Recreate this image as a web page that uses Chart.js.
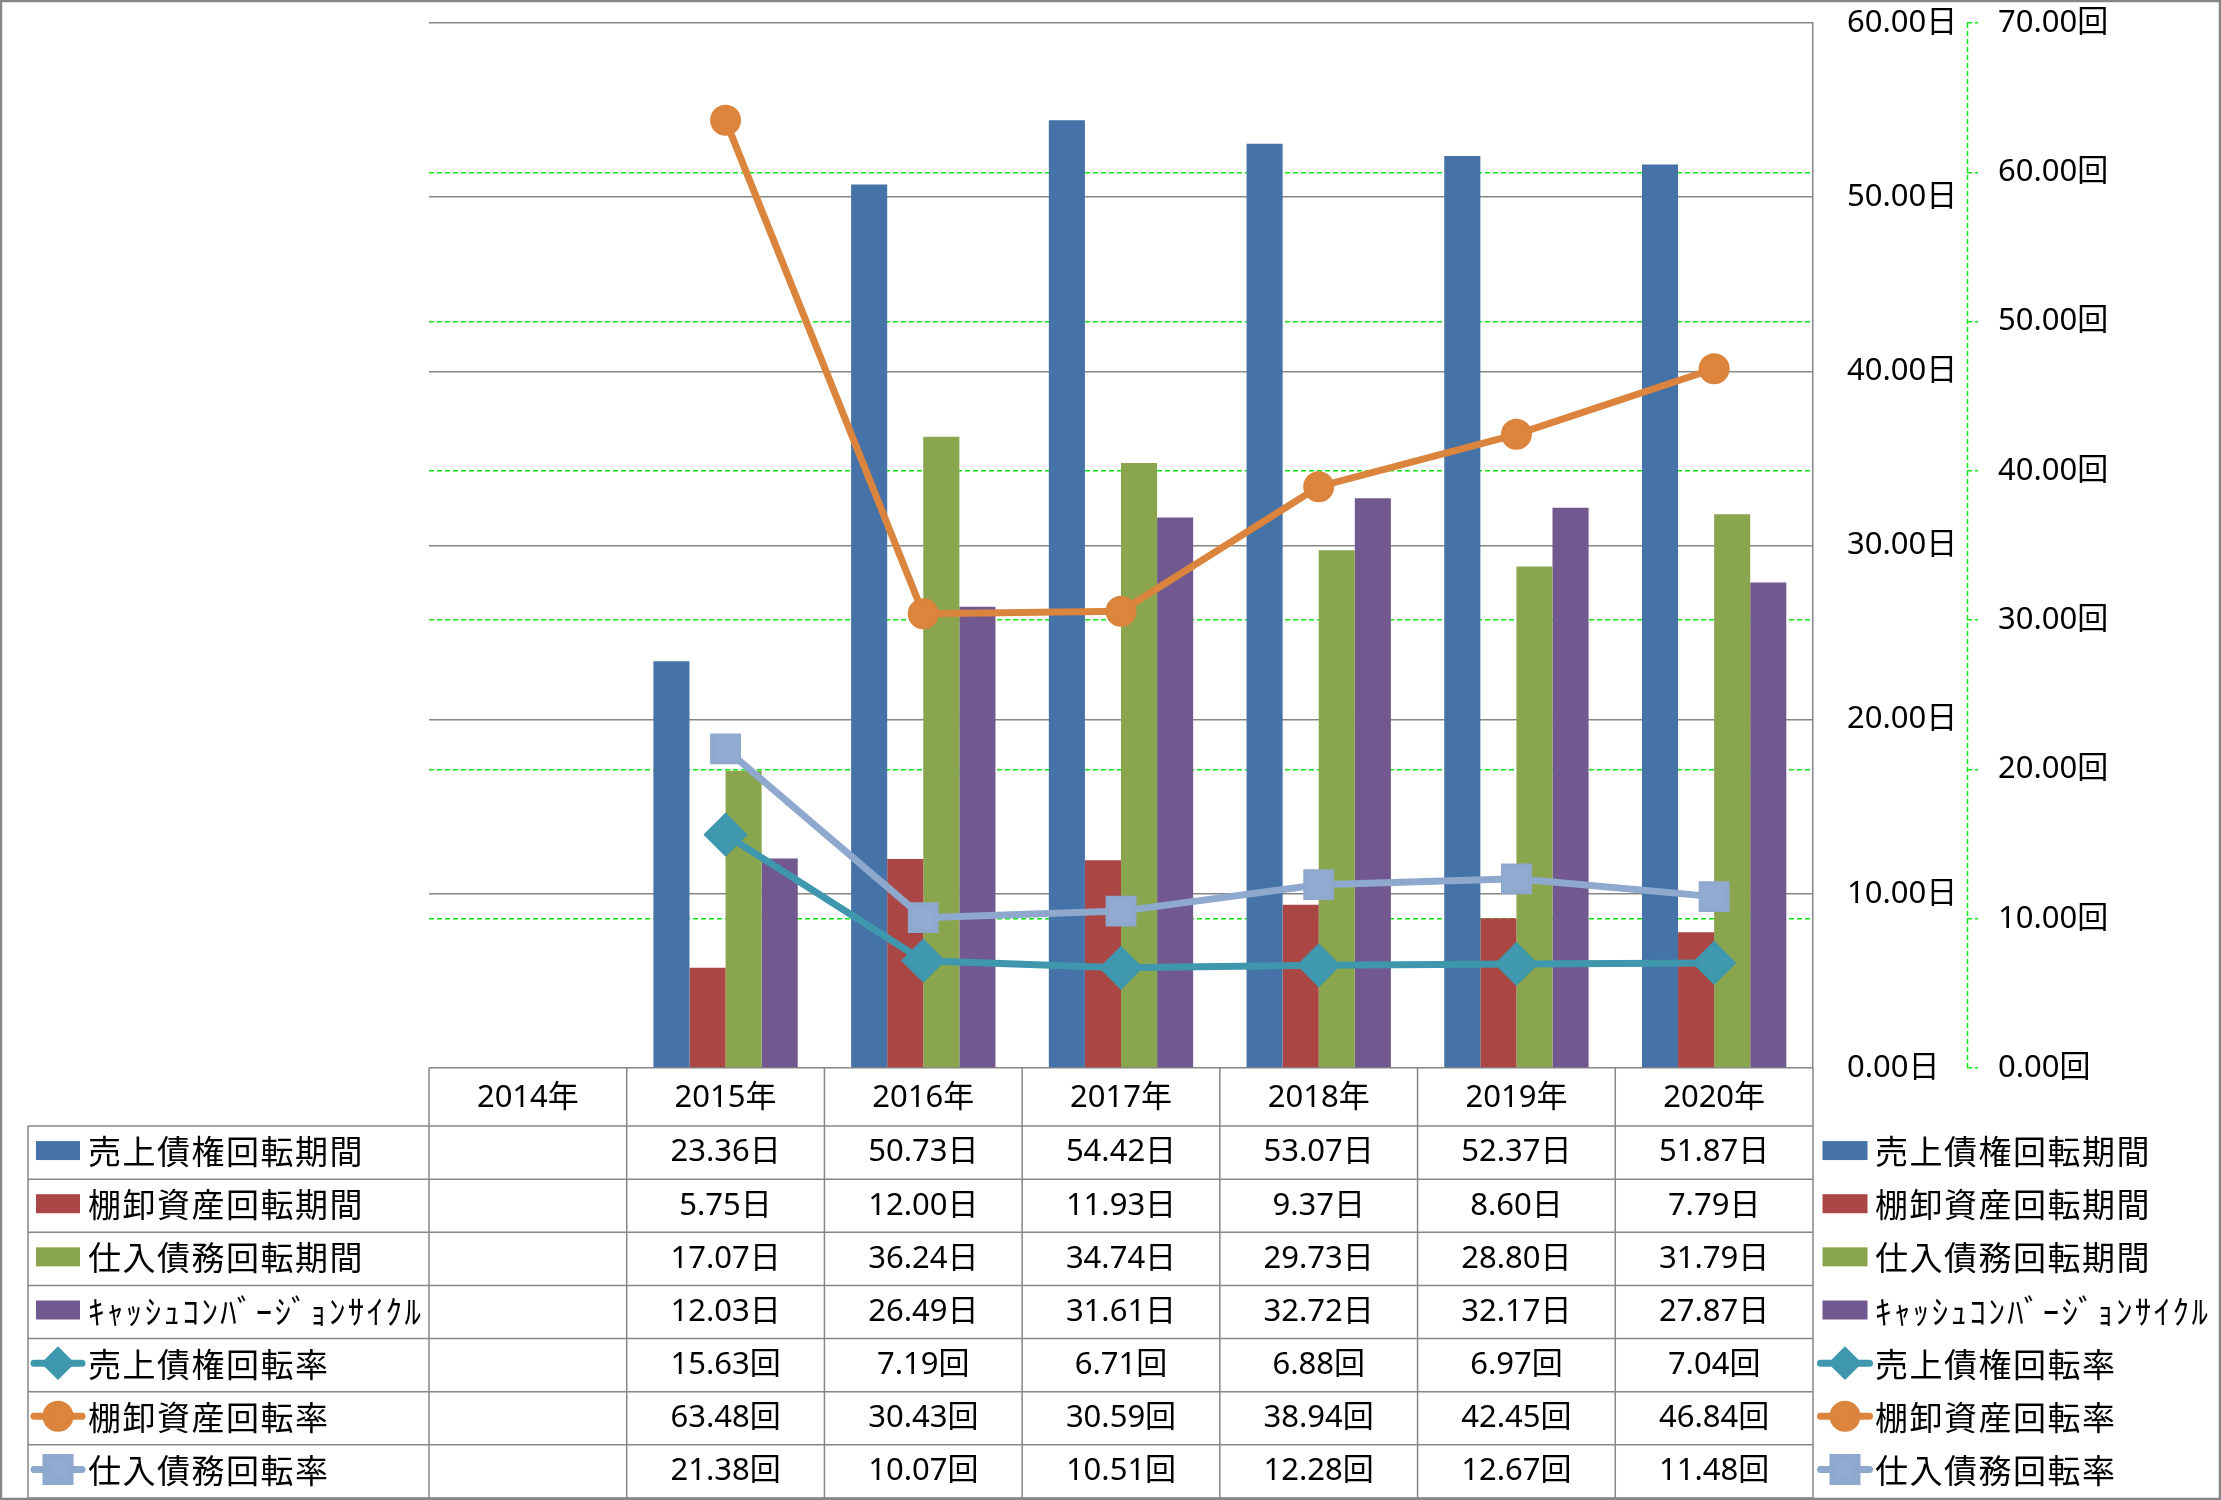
<!DOCTYPE html>
<html>
<head>
<meta charset="utf-8">
<script src="https://cdn.jsdelivr.net/npm/chart.js"></script>
<style>
  html, body { margin: 0; padding: 0; background: #ffffff; }
  #wrap { width: 2221px; height: 1500px; position: relative; }
</style>
</head>
<body>
<div id="wrap"><canvas id="c" width="2221" height="1500"></canvas></div>
<script>
// ---- data ----
const categories = ['2014年', '2015年', '2016年', '2017年', '2018年', '2019年', '2020年'];
const arDays   = [null, 23.36, 50.73, 54.42, 53.07, 52.37, 51.87];
const invDays  = [null, 5.75, 12.00, 11.93, 9.37, 8.60, 7.79];
const apDays   = [null, 17.07, 36.24, 34.74, 29.73, 28.80, 31.79];
const cccDays  = [null, 12.03, 26.49, 31.61, 32.72, 32.17, 27.87];
const arTurn   = [null, 15.63, 7.19, 6.71, 6.88, 6.97, 7.04];
const invTurn  = [null, 63.48, 30.43, 30.59, 38.94, 42.45, 46.84];
const apTurn   = [null, 21.38, 10.07, 10.51, 12.28, 12.67, 11.48];
const seriesNames = ['売上債権回転期間', '棚卸資産回転期間', '仕入債務回転期間', 'ｷｬｯｼｭｺﾝﾊﾞｰｼﾞｮﾝｻｲｸﾙ', '売上債権回転率', '棚卸資産回転率', '仕入債務回転率'];
const dayUnit = '日';
const turnUnit = '回';
const dayAxis = { min: 0, max: 60, step: 10 };
const turnAxis = { min: 0, max: 70, step: 10 };

// ---- styles ----
const NUM_FONT = '31px "Noto Sans", "Noto Sans CJK JP", sans-serif';
const LABEL_FONT = '33px "Noto Sans CJK JP", sans-serif';
const GRID_GRAY = '#868686';
const GREEN = '#12E812';

const barColors = ['#4572A7', '#AA4643', '#89A54E', '#71588F'];
const lineColors = ['#3F97AE', '#DB843D', '#8EA8CE'];

const datasets = [
  { type: 'bar', label: seriesNames[0], data: arDays, backgroundColor: barColors[0], yAxisID: 'y', order: 2 },
  { type: 'bar', label: seriesNames[1], data: invDays, backgroundColor: barColors[1], yAxisID: 'y', order: 2 },
  { type: 'bar', label: seriesNames[2], data: apDays, backgroundColor: barColors[2], yAxisID: 'y', order: 2 },
  { type: 'bar', label: seriesNames[3], data: cccDays, backgroundColor: barColors[3], yAxisID: 'y', order: 2 },
  { type: 'line', label: seriesNames[4], data: arTurn, borderColor: lineColors[0], backgroundColor: lineColors[0],
    pointStyle: 'rectRot', pointRadius: 20, pointHoverRadius: 20, pointBorderWidth: 3, pointBackgroundColor: '#4199B0', pointBorderColor: lineColors[0],
    borderWidth: 7, yAxisID: 'y1', order: 1 },
  { type: 'line', label: seriesNames[5], data: invTurn, borderColor: lineColors[1], backgroundColor: lineColors[1],
    pointStyle: 'circle', pointRadius: 14, pointHoverRadius: 14, pointBorderWidth: 3, pointBackgroundColor: '#DD853C', pointBorderColor: lineColors[1],
    borderWidth: 7, yAxisID: 'y1', order: 1 },
  { type: 'line', label: seriesNames[6], data: apTurn, borderColor: lineColors[2], backgroundColor: lineColors[2],
    pointStyle: 'rect', pointRadius: 19, pointHoverRadius: 19, pointBorderWidth: 4, pointBackgroundColor: '#93AAD2', pointBorderColor: lineColors[2],
    borderWidth: 7, yAxisID: 'y1', order: 1 }
];
const units = [dayUnit, dayUnit, dayUnit, dayUnit, turnUnit, turnUnit, turnUnit];

function drawKey(ctx, ds, cx, cy, w) {
  ctx.save();
  if (ds.type === 'bar') {
    ctx.fillStyle = ds.backgroundColor;
    ctx.fillRect(cx - w / 2, cy - 9.5, w, 19);
  } else {
    ctx.strokeStyle = ds.borderColor;
    ctx.lineWidth = 7;
    ctx.lineCap = 'round';
    ctx.beginPath();
    ctx.moveTo(cx - w / 2 - 2, cy);
    ctx.lineTo(cx + w / 2 + 2, cy);
    ctx.stroke();
    ctx.fillStyle = ds.pointBackgroundColor;
    ctx.strokeStyle = ds.pointBorderColor;
    const r = ds.pointStyle === 'circle' ? 12 : (ds.pointStyle === 'rect' ? 17 : 12);
    Chart.helpers.drawPoint(ctx, { pointStyle: ds.pointStyle, rotation: 0, radius: r, borderWidth: ds.pointBorderWidth }, cx, cy);
  }
  ctx.restore();
}

const tablePlugin = {
  id: 'dataTable',
  afterDraw(chart) {
    const ctx = chart.ctx;
    const ca = chart.chartArea;
    const xs = chart.scales.x;
    const y1 = chart.scales.y1;
    const n = categories.length;
    const cw = (ca.right - ca.left) / n;
    const headTop = ca.bottom;
    const headBot = headTop + 58;
    const tableBot = 1498;
    const rows = datasets.length;
    const rowH = (tableBot - headBot) / rows;
    const labelLeft = 28;

    ctx.save();
    // green dashed secondary axis line
    ctx.strokeStyle = GREEN;
    ctx.lineWidth = 1.5;
    ctx.setLineDash([5, 3]);
    ctx.beginPath();
    ctx.moveTo(Math.round(y1.left) + 0.5, ca.top);
    ctx.lineTo(Math.round(y1.left) + 0.5, ca.bottom);
    ctx.stroke();
    ctx.setLineDash([]);

    // table lines
    ctx.strokeStyle = GRID_GRAY;
    ctx.lineWidth = 1.5;
    ctx.beginPath();
    for (let i = 0; i <= n; i++) {
      const x = ca.left + i * cw;
      ctx.moveTo(x, headTop);
      ctx.lineTo(x, tableBot);
    }
    for (let r = 0; r <= rows; r++) {
      const y = headBot + r * rowH;
      ctx.moveTo(labelLeft, y);
      ctx.lineTo(ca.right, y);
    }
    ctx.moveTo(labelLeft, headBot);
    ctx.lineTo(labelLeft, tableBot);
    ctx.stroke();

    // header
    ctx.fillStyle = '#000000';
    ctx.font = NUM_FONT;
    ctx.textAlign = 'center';
    ctx.textBaseline = 'middle';
    for (let i = 0; i < n; i++) {
      ctx.fillText(categories[i], xs.getPixelForValue(i), (headTop + headBot) / 2 + 1);
    }
    // rows
    for (let r = 0; r < rows; r++) {
      const ds = datasets[r];
      const cy = headBot + (r + 0.5) * rowH;
      for (let i = 0; i < n; i++) {
        const v = ds.data[i];
        if (v === null || v === undefined) continue;
        ctx.font = NUM_FONT;
        ctx.textAlign = 'center';
        ctx.fillText(v.toFixed(2) + units[r], xs.getPixelForValue(i), cy);
      }
      // label column key + text
      drawKey(ctx, ds, 58, cy - 2, 44);
      ctx.font = LABEL_FONT;
      ctx.textAlign = 'left';
      ctx.letterSpacing = /^[\uFF61-\uFF9F]+$/.test(ds.label) ? '2.4px' : '1.5px';
      ctx.fillText(ds.label, 88, cy - 1);
      // right legend
      drawKey(ctx, ds, 1845, cy - 2, 45);
      ctx.fillText(ds.label, 1875, cy - 1);
      ctx.letterSpacing = '0px';
    }

    // outer border
    ctx.strokeStyle = GRID_GRAY;
    ctx.lineWidth = 2.5;
    ctx.strokeRect(1, 1, chart.width - 2, chart.height - 2);
    ctx.restore();
  }
};

function noPad(s, w) {
  s.width = w;
  s.paddingTop = 0;
  s.paddingBottom = 0;
}

new Chart(document.getElementById('c'), {
  data: { labels: categories, datasets: datasets },
  options: {
    responsive: false,
    animation: false,
    devicePixelRatio: 1,
    events: [],
    layout: { padding: { left: 429, top: 23, right: 0, bottom: 432 } },
    datasets: {
      bar: { categoryPercentage: 0.73, barPercentage: 1.0, borderWidth: 0 },
      line: { tension: 0 }
    },
    plugins: { legend: { display: false }, tooltip: { enabled: false } },
    scales: {
      x: { type: 'category', display: false, offset: true },
      y: {
        position: 'right', weight: 0,
        min: dayAxis.min, max: dayAxis.max,
        ticks: { stepSize: dayAxis.step, padding: 34, color: '#000000', font: { family: '"Noto Sans", "Noto Sans CJK JP", sans-serif', size: 31 },
          callback: v => Number(v).toFixed(2) + dayUnit },
        grid: { color: GRID_GRAY, lineWidth: 1.5, drawTicks: false },
        border: { display: true, color: GRID_GRAY, width: 1.5 },
        afterFit: s => noPad(s, 154)
      },
      y1: {
        position: 'right', weight: 1,
        min: turnAxis.min, max: turnAxis.max,
        ticks: { stepSize: turnAxis.step, padding: 20, color: '#000000', font: { family: '"Noto Sans", "Noto Sans CJK JP", sans-serif', size: 31 },
          callback: v => Number(v).toFixed(2) + turnUnit },
        grid: {
          drawOnChartArea: true, lineWidth: 1.5, drawTicks: true, tickLength: 11,
          color: c => (c.tick && (c.tick.value === turnAxis.min || c.tick.value === turnAxis.max)) ? 'rgba(0,0,0,0)' : GREEN,
          tickColor: GREEN, tickWidth: 1.5, tickBorderDash: [5, 3]
        },
        border: { display: false, dash: [5, 3] },
        afterFit: s => noPad(s, 254)
      }
    }
  },
  plugins: [tablePlugin]
});
</script>
</body>
</html>
